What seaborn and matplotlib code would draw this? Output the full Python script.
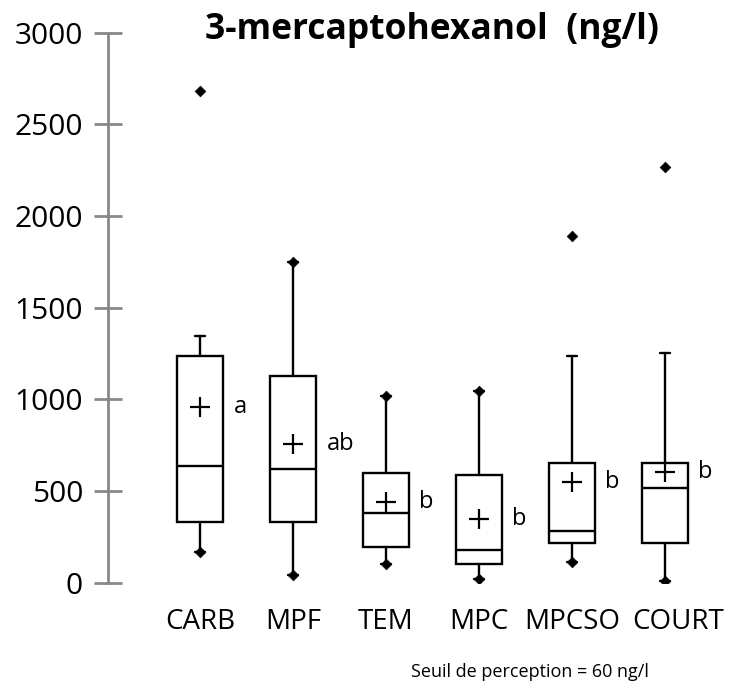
import matplotlib
matplotlib.use("Agg")
import matplotlib.pyplot as plt
import seaborn as sns
import pandas as pd
import numpy as np

categories = ["CARB", "MPF", "TEM", "MPC", "MPCSO", "COURT"]
q1_vals = [330, 330, 196, 102, 215, 218]
median_vals = [637, 619, 382, 178, 282, 515]
q3_vals = [1237, 1129, 597, 587, 655, 655]
whisker_low = [169, 42, 100, 18, 115, 11]
whisker_high = [1347, 1749, 1020, 1047, 1237, 1251]
max_vals = [2684, 1749, 1020, 1047, 1890, 2269]
mean_vals = [960, 755, 442, 349, 551, 605]
group_letters = ["a", "ab", "b", "b", "b", "b"]
y_ticks = [0, 500, 1000, 1500, 2000, 2500, 3000]

sns.set_style("white")
plt.rcParams['font.family'] = ['Open Sans', 'DejaVu Sans']
plt.rcParams['text.color'] = 'black'
plt.rcParams['xtick.color'] = 'black'
plt.rcParams['ytick.color'] = 'black'

fig = plt.figure(figsize=(7.32, 6.85), dpi=100)
ax = fig.add_axes([108/732, 1 - 582.7/685, 622/732, 550/685])

positions = np.arange(len(categories))
stats = []
for i, c in enumerate(categories):
    stats.append(dict(label=c, q1=q1_vals[i], med=median_vals[i], q3=q3_vals[i],
                      whislo=whisker_low[i], whishi=whisker_high[i], fliers=[]))

lw = 1.7
ax.bxp(stats, positions=positions, widths=0.5, showcaps=True, capwidths=0.1,
       showfliers=False, patch_artist=True,
       boxprops=dict(facecolor="white", edgecolor="black", linewidth=lw),
       medianprops=dict(color="black", linewidth=lw),
       whiskerprops=dict(color="black", linewidth=lw),
       capprops=dict(color="black", linewidth=lw))

df = pd.DataFrame({"pos": positions, "cat": categories, "min": whisker_low,
                   "max": max_vals, "mean": mean_vals})
sns.scatterplot(data=df, x="pos", y="min", marker="D", s=30, color="black",
                edgecolor="black", ax=ax, zorder=5, legend=False)
sns.scatterplot(data=df, x="pos", y="max", marker="D", s=30, color="black",
                edgecolor="black", ax=ax, zorder=5, legend=False)
sns.scatterplot(data=df, x="pos", y="mean", marker="+", s=190, color="black",
                linewidth=1.6, ax=ax, zorder=6, legend=False)

for i, letter in enumerate(group_letters):
    ax.text(positions[i] + 0.36, mean_vals[i], letter, fontsize=17,
            ha="left", va="center", color="black")

ax.set_xlim(-0.99, 5.7)
ax.set_ylim(0, 3000)
ax.set_yticks(y_ticks)
ax.set_yticklabels([str(t) for t in y_ticks], fontsize=21.5)
ax.set_xticks(positions)
ax.set_xticklabels([])
ax.set_xlabel("")
ax.set_ylabel("")

# category labels (the last one sits slightly right of its box, as in the reference)
label_dx = [0, 0, 0, 0, 0, 13]
for i, c in enumerate(categories):
    ax.annotate(c, xy=(positions[i], 0), xycoords=("data", "axes fraction"),
                xytext=(label_dx[i], -39.5), textcoords="offset pixels",
                ha="center", va="center", fontsize=20, color="black",
                annotation_clip=False)

for s in ["top", "right", "bottom"]:
    ax.spines[s].set_visible(False)
ax.spines["left"].set_color("#888888")
ax.spines["left"].set_linewidth(2)
ax.tick_params(axis="y", direction="inout", length=20, width=2, color="#888888",
               labelcolor="black", pad=8, left=True)
ax.tick_params(axis="x", length=0)

fig.text(432/732, 1 - 30/685, "3-mercaptohexanol  (ng/l)", fontsize=25.5,
         fontweight="bold", ha="center", va="center")
fig.text(530/732, 1 - 672/685, "Seuil de perception = 60 ng/l", fontsize=13,
         ha="center", va="center")

fig.savefig("out.png", dpi=100)
